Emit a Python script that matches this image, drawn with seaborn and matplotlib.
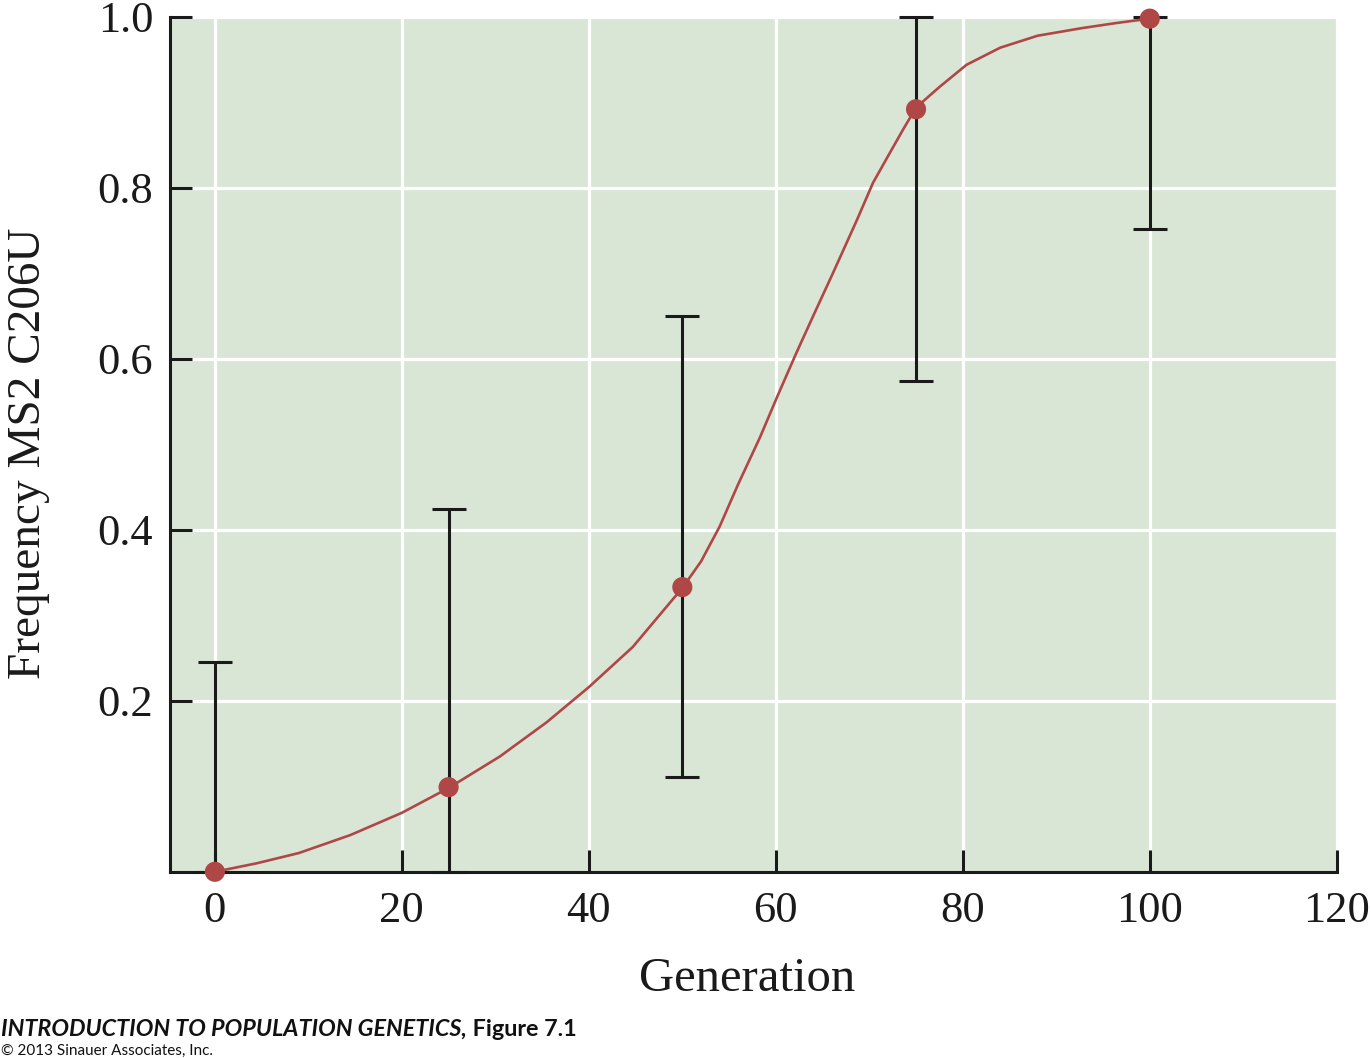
import seaborn as sns
import matplotlib.pyplot as plt
import pandas as pd

# measured points with error bars
gens = [0, 25, 50, 75, 100]
freqs = [0.0, 0.099, 0.333, 0.892, 0.998]
err_low = [0.0, 0.0, 0.111, 0.574, 0.752]
err_high = [0.245, 0.424, 0.650, 1.0, 1.0]

# fitted curve
curve_gen = [0, 4.5, 9, 14.5, 20, 25, 30.5, 35.5, 40, 44.7, 50, 52, 54, 56,
             58.3, 60.2, 62.2, 64.2, 66.1, 68.7, 70.4, 72.2, 73.6, 75, 77.5,
             80.4, 84, 88, 92.8, 96.5, 100]
curve_freq = [0.0, 0.010, 0.022, 0.043, 0.069, 0.098, 0.135, 0.175, 0.216, 0.263,
              0.332, 0.363, 0.404, 0.454, 0.508, 0.557, 0.607, 0.655, 0.700, 0.763,
              0.806, 0.841, 0.868, 0.894, 0.918, 0.944, 0.964, 0.978, 0.987, 0.993,
              0.998]

xticks = [0, 20, 40, 60, 80, 100, 120]
yticks = [0.2, 0.4, 0.6, 0.8, 1.0]

pts = pd.DataFrame({"Generation": gens, "Freq": freqs})
curve = pd.DataFrame({"Generation": curve_gen, "Freq": curve_freq})

red = "#b04747"
green_bg = "#d9e6d5"

sns.set_theme(style="white")
plt.rcParams["font.family"] = ["Liberation Serif", "DejaVu Serif"]

fig = plt.figure(figsize=(13.71, 10.58), dpi=100)
ax = fig.add_axes([0.124, 0.176, 0.851, 0.808])
ax.set_facecolor(green_bg)

ax.set_xlim(-4.8, 120)
ax.set_ylim(0, 1.0)
ax.set_xticks(xticks)
ax.set_yticks(yticks)
ax.set_yticklabels(["{0:.1f}".format(v) for v in yticks])

ax.grid(True, color="white", linewidth=2.3)
ax.set_axisbelow(True)

lower = [f - l for f, l in zip(freqs, err_low)]
upper = [h - f for f, h in zip(freqs, err_high)]
ax.errorbar(gens, freqs, yerr=[lower, upper], fmt="none", ecolor="#1a1a1a",
            elinewidth=2.2, capsize=12, capthick=2.2, zorder=3, clip_on=False)

sns.lineplot(data=curve, x="Generation", y="Freq", ax=ax, color=red,
             linewidth=1.9, zorder=4)
sns.scatterplot(data=pts, x="Generation", y="Freq", ax=ax, color=red, s=210,
                edgecolor="none", zorder=5, clip_on=False)

for side in ["top", "right"]:
    ax.spines[side].set_visible(False)
for side in ["left", "bottom"]:
    ax.spines[side].set_color("#1a1a1a")
    ax.spines[side].set_linewidth(2.2)

# seaborn's white style switches the ticks off, bring them back (inward)
ax.tick_params(bottom=True, left=True, direction="in", length=16, width=2.2,
               color="#1a1a1a", labelsize=32, labelcolor="#1a1a1a")
ax.tick_params(axis="x", pad=14)
ax.tick_params(axis="y", pad=12)

ax.set_xlabel("Generation", fontsize=35, color="#1a1a1a")
ax.set_ylabel("Frequency MS2 C206U", fontsize=34, color="#1a1a1a")
ax.xaxis.set_label_coords(0.495, -0.10)
ax.yaxis.set_label_coords(-0.103, 0.49)

t1 = fig.text(0.001, 0.021, "INTRODUCTION TO POPULATION GENETICS,", family="Lato",
              fontsize=16.8, fontweight="bold", style="italic", color="#111111")
ax.annotate(" Figure 7.1", xy=(1, 0), xycoords=t1, va="bottom", ha="left",
            family="Lato", fontsize=16.8, fontweight="bold", color="#111111",
            annotation_clip=False)
fig.text(0.001, 0.003, "\u00a9 2013 Sinauer Associates, Inc.", family="Lato",
         fontsize=11, color="#111111")

fig.savefig("out.png", dpi=100)
